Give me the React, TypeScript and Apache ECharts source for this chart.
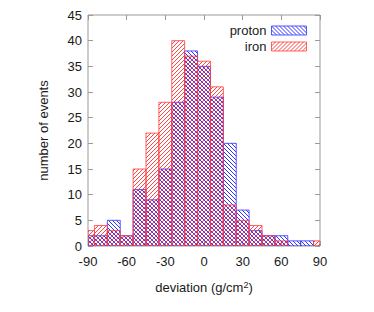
import React, { useEffect, useRef } from "react";
import * as echarts from "echarts";

const binCenters = [-90, -80, -70, -60, -50, -40, -30, -20, -10, 0, 10, 20, 30, 40, 50, 60, 70, 80, 90];
const protonCounts = [2, 2, 5, 2, 11, 9, 15, 28, 38, 35, 29, 20, 7, 3, 2, 2, 1, 1, 0];
const ironCounts = [3, 4, 3, 2, 15, 22, 28, 40, 37, 36, 31, 8, 5, 4, 2, 1, 0, 0, 1];
const binWidth = 10;
const xRange = [-90, 90];
const yRange = [0, 45];

function makePattern(color: string, dir: "back" | "fwd") {
  const n = 4;
  const c = document.createElement("canvas");
  c.width = n;
  c.height = n;
  const ctx = c.getContext("2d")!;
  ctx.fillStyle = color;
  for (let i = 0; i < n; i++) {
    const x = dir === "back" ? i : n - 1 - i;
    ctx.fillRect(x, i, 1, 1);
  }
  return { image: c, repeat: "repeat" } as any;
}

export default function App() {
  const ref = useRef<HTMLDivElement>(null);
  useEffect(() => {
    const chart = echarts.init(ref.current!, null, { renderer: "svg" });
    const bluePat = makePattern("rgba(40,40,255,0.95)", "back");
    const redPat = makePattern("rgba(255,50,50,0.9)", "fwd");
    const blueStroke = "rgba(60,60,255,0.85)";
    const redStroke = "rgba(255,60,60,0.8)";
    const font = "'Liberation Sans', Arial, sans-serif";
    const textColor = "#1a1a1a";

    const mkRender = (fill: any, stroke: string) => (params: any, api: any) => {
      const c = api.value(0);
      const v = api.value(1);
      if (!v) return null;
      const lo = Math.max(c - binWidth / 2, xRange[0]);
      const hi = Math.min(c + binWidth / 2, xRange[1]);
      const p0 = api.coord([lo, 0]);
      const p1 = api.coord([hi, v]);
      return {
        type: "rect",
        shape: { x: p0[0], y: p1[1], width: p1[0] - p0[0], height: p0[1] - p1[1] },
        style: { fill, stroke, lineWidth: 1 },
      };
    };

    const tickStyle = { show: true, inside: true, length: 5, lineStyle: { color: "#999" } };
    const noLine = { show: false, onZero: false };

    chart.setOption({
      animation: false,
      textStyle: { fontFamily: font },
      grid: { left: 88, right: 54, top: 15, bottom: 66, show: true, borderColor: "#999", borderWidth: 1 },
      legend: {
        orient: "vertical",
        right: 62,
        top: 19,
        align: "right",
        itemWidth: 35,
        itemHeight: 9,
        itemGap: 3,
        textStyle: { fontSize: 13, color: textColor, fontFamily: font },
        data: [
          { name: "proton", icon: "rect", itemStyle: { color: bluePat, borderColor: blueStroke, borderWidth: 1 } },
          { name: "iron", icon: "rect", itemStyle: { color: redPat, borderColor: redStroke, borderWidth: 1 } },
        ],
      },
      xAxis: [
        {
          type: "value",
          min: xRange[0],
          max: xRange[1],
          interval: 30,
          position: "bottom",
          axisLine: noLine,
          axisTick: tickStyle,
          splitLine: { show: false },
          axisLabel: { fontSize: 13, color: textColor, margin: 9, fontFamily: font },
          name: "deviation (g/cm{sup|2})",
          nameLocation: "middle",
          nameGap: 34,
          nameTextStyle: {
            fontSize: 13,
            color: textColor,
            fontFamily: font,
            rich: { sup: { fontSize: 9, color: textColor, padding: [0, 0, 6, 0], fontFamily: font } },
          },
        },
        {
          type: "value",
          min: xRange[0],
          max: xRange[1],
          interval: 30,
          position: "top",
          axisLine: noLine,
          axisTick: tickStyle,
          splitLine: { show: false },
          axisLabel: { show: false },
        },
      ],
      yAxis: [
        {
          type: "value",
          min: yRange[0],
          max: yRange[1],
          interval: 5,
          position: "left",
          axisLine: noLine,
          axisTick: tickStyle,
          splitLine: { show: false },
          axisLabel: { fontSize: 13, color: textColor, margin: 6, fontFamily: font },
          name: "number of events",
          nameLocation: "middle",
          nameGap: 38,
          nameTextStyle: { fontSize: 13, color: textColor, fontFamily: font },
        },
        {
          type: "value",
          min: yRange[0],
          max: yRange[1],
          interval: 5,
          position: "right",
          axisLine: noLine,
          axisTick: tickStyle,
          splitLine: { show: false },
          axisLabel: { show: false },
        },
      ],
      series: [
        {
          name: "proton",
          type: "custom",
          xAxisIndex: 0,
          yAxisIndex: 0,
          clip: true,
          renderItem: mkRender(bluePat, blueStroke),
          encode: { x: 0, y: 1 },
          data: binCenters.map((c, i) => [c, protonCounts[i]]),
        },
        {
          name: "iron",
          type: "custom",
          xAxisIndex: 0,
          yAxisIndex: 0,
          clip: true,
          renderItem: mkRender(redPat, redStroke),
          encode: { x: 0, y: 1 },
          data: binCenters.map((c, i) => [c, ironCounts[i]]),
        },
      ],
    });
    return () => chart.dispose();
  }, []);
  return <div ref={ref} style={{ width: 374, height: 312, position: "absolute", left: 0, top: 0 }} />;
}
